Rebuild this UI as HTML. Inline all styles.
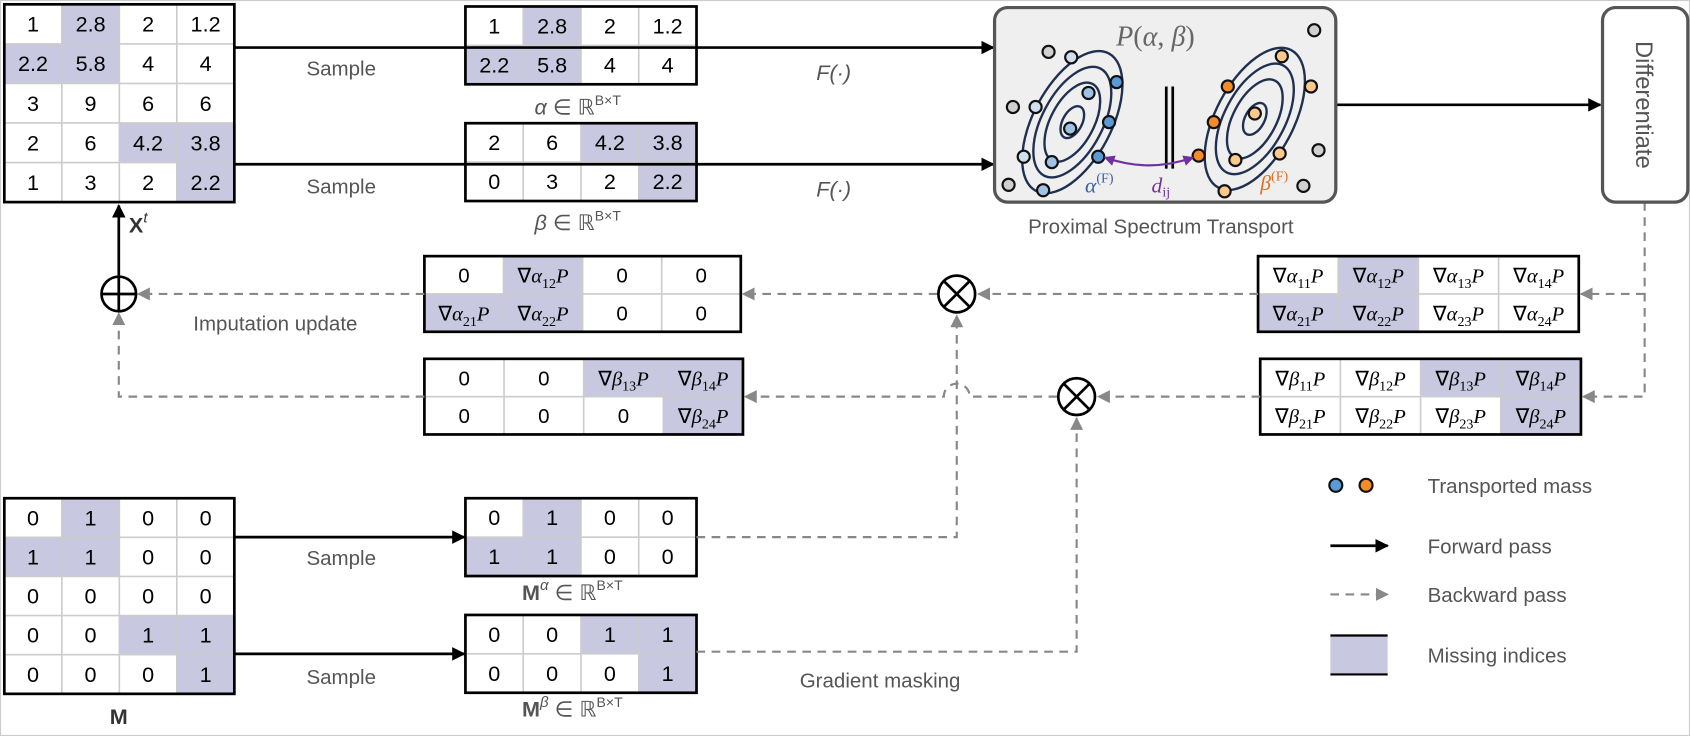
<!DOCTYPE html>
<html><head><meta charset="utf-8"><style>
html,body{margin:0;padding:0;background:#fff}
svg{display:block}
text{font-family:"Liberation Sans",sans-serif}
.m{font-family:"Liberation Serif",serif}
</style></head><body>
<svg id="s" width="1690" height="736" viewBox="0 0 1565 681" preserveAspectRatio="none" xmlns="http://www.w3.org/2000/svg">
<defs>
<marker id="ab" viewBox="0 0 10 10" refX="9" refY="5" markerWidth="5" markerHeight="5" orient="auto"><path d="M0,0L10,5L0,10z" fill="#000"/></marker>
<marker id="ag" viewBox="0 0 10 10" refX="9" refY="5" markerWidth="6" markerHeight="6" orient="auto"><path d="M0,0L10,5L0,10z" fill="#888"/></marker>
<marker id="ap" viewBox="0 0 10 10" refX="8" refY="5" markerWidth="5" markerHeight="5" orient="auto-start-reverse"><path d="M0,0L10,5L0,10z" fill="#7030a0"/></marker>
</defs>
<rect x="0.5" y="0.5" width="1564" height="680" fill="#fff" stroke="#ccc"/>
<g id="mats"></g>
<!-- forward arrows -->
<g stroke="#000" stroke-width="2.5" fill="none">
<line x1="217" y1="44" x2="920" y2="44" marker-end="url(#ab)"/>
<line x1="217" y1="152" x2="920" y2="152" marker-end="url(#ab)"/>
<line x1="1237" y1="97" x2="1482" y2="97" marker-end="url(#ab)"/>
<line x1="110" y1="256" x2="110" y2="190" marker-end="url(#ab)"/>
<line x1="217" y1="497" x2="430" y2="497" marker-end="url(#ab)"/>
<line x1="217" y1="605" x2="430" y2="605" marker-end="url(#ab)"/>
</g>
<!-- backward -->
<g stroke="#888" stroke-width="2" stroke-dasharray="8,6" fill="none">
<path d="M1523,187 V367 H1466" marker-end="url(#ag)"/>
<path d="M1523,272 H1464" marker-end="url(#ag)"/>
<path d="M1165,272 H906" marker-end="url(#ag)"/>
<path d="M868,272 H688" marker-end="url(#ag)"/>
<path d="M393,272 H128" marker-end="url(#ag)"/>
<path d="M1167,367 H1017" marker-end="url(#ag)"/>
<path d="M979,367 H898 A12,12 0 0 0 874,367 H690" marker-end="url(#ag)"/>
<path d="M393,367 H110 V290" marker-end="url(#ag)"/>
<path d="M645,497 H886 V292" marker-end="url(#ag)"/>
<path d="M645,603 H997 V387" marker-end="url(#ag)"/>
</g>
<!-- operators -->
<g stroke="#000" stroke-width="2.5" fill="#fff">
<circle cx="110" cy="272" r="16"/><path d="M94,272H126M110,256V288"/>
<circle cx="886" cy="272" r="17"/><path d="M874,260L898,284M898,260L874,284"/>
<circle cx="997" cy="367" r="17"/><path d="M985,355L1009,379M1009,355L985,379"/>
</g>
<!-- PST box -->
<rect x="921" y="7" width="316" height="180" rx="12" fill="#efefef" stroke="#555" stroke-width="3"/>
<text x="1070" y="42" text-anchor="middle" class="m" font-size="26" fill="#666"><tspan font-style="italic">P</tspan>(<tspan font-style="italic">α</tspan>, <tspan font-style="italic">β</tspan>)</text>
<g fill="none" stroke="#1f3050" stroke-width="2.2">
<g transform="translate(993,113) rotate(28)"><ellipse rx="36" ry="72"/><ellipse rx="28" ry="56"/><ellipse rx="20" ry="40"/><ellipse rx="9" ry="16"/></g>
</g>
<g fill="none" stroke="#1f3050" stroke-width="2.2">
<g transform="translate(1162,110) rotate(28)"><ellipse rx="36" ry="72"/><ellipse rx="28" ry="56"/><ellipse rx="20" ry="40"/><ellipse rx="9" ry="16"/></g>
</g>
<g id="dots" stroke="#111" stroke-width="2"></g>
<path d="M1080,80V156M1086,80V156" stroke="#000" stroke-width="2.5"/>
<path d="M1024,146 Q1064,160 1104,146" fill="none" stroke="#7030a0" stroke-width="2" marker-start="url(#ap)" marker-end="url(#ap)"/>
<text x="1075" y="178" text-anchor="middle" class="m" font-size="20" fill="#7030a0"><tspan font-style="italic">d</tspan><tspan font-size="13" dy="4">ij</tspan></text>
<text x="1018" y="178" text-anchor="middle" class="m" font-size="20" fill="#3a5fa0"><tspan font-style="italic">α</tspan><tspan font-size="13" dy="-9">(F)</tspan></text>
<text x="1180" y="176" text-anchor="middle" class="m" font-size="20" fill="#e07020"><tspan font-style="italic">β</tspan><tspan font-size="13" dy="-9">(F)</tspan></text>
<text x="1075" y="216" text-anchor="middle" font-size="19" fill="#555">Proximal Spectrum Transport</text>
<!-- differentiate -->
<rect x="1484" y="7" width="79" height="180" rx="12" fill="#fff" stroke="#555" stroke-width="3"/>
<text transform="translate(1515,97) rotate(90)" text-anchor="middle" font-size="22" fill="#555">Differentiate</text>
<!-- labels -->
<g font-size="19" fill="#555" text-anchor="middle">
<text x="316" y="70">Sample</text><text x="316" y="179">Sample</text>
<text x="316" y="523">Sample</text><text x="316" y="633">Sample</text>
<text x="255" y="306">Imputation update</text>
<text x="815" y="636">Gradient masking</text>
</g>
<g class="m" font-size="20" fill="#555" text-anchor="middle">
<text x="772" y="74" font-style="italic">F(·)</text><text x="772" y="182" font-style="italic">F(·)</text>
<text x="535" y="106"><tspan font-style="italic">α</tspan> ∈ ℝ<tspan font-size="13" dy="-9">B×T</tspan></text>
<text x="535" y="213"><tspan font-style="italic">β</tspan> ∈ ℝ<tspan font-size="13" dy="-9">B×T</tspan></text>
<text x="128" y="215" font-weight="bold" fill="#333">X<tspan font-size="14" dy="-9" font-weight="normal" font-style="italic">t</tspan></text>
<text x="110" y="670" font-weight="bold" fill="#333">M</text>
<text x="530" y="555"><tspan font-weight="bold">M</tspan><tspan font-size="14" dy="-9" font-style="italic">α</tspan><tspan dy="9"> ∈ ℝ</tspan><tspan font-size="13" dy="-9">B×T</tspan></text>
<text x="530" y="663"><tspan font-weight="bold">M</tspan><tspan font-size="14" dy="-9" font-style="italic">β</tspan><tspan dy="9"> ∈ ℝ</tspan><tspan font-size="13" dy="-9">B×T</tspan></text>
</g>
<!-- legend -->
<g>
<circle cx="1237" cy="449" r="6" fill="#5b9bd5" stroke="#111" stroke-width="2"/>
<circle cx="1265" cy="449" r="6" fill="#f28c28" stroke="#111" stroke-width="2"/>
<text x="1322" y="456" font-size="19" fill="#555">Transported mass</text>
<line x1="1232" y1="505" x2="1285" y2="505" stroke="#000" stroke-width="2.5" marker-end="url(#ab)"/>
<text x="1322" y="512" font-size="19" fill="#555">Forward pass</text>
<line x1="1232" y1="550" x2="1285" y2="550" stroke="#888" stroke-width="2" stroke-dasharray="8,6" marker-end="url(#ag)"/>
<text x="1322" y="557" font-size="19" fill="#555">Backward pass</text>
<rect x="1232" y="588" width="53" height="36" fill="#c8c8e0"/>
<path d="M1232,588H1285M1232,624H1285" stroke="#000" stroke-width="2"/>
<text x="1322" y="613" font-size="19" fill="#555">Missing indices</text>
</g>
</svg>
<script>
const NS='http://www.w3.org/2000/svg';
const xVals=[['1','2.8','2','1.2'],['2.2','5.8','4','4'],['3','9','6','6'],['2','6','4.2','3.8'],['1','3','2','2.2']];
const mVals=[['0','1','0','0'],['1','1','0','0'],['0','0','0','0'],['0','0','1','1'],['0','0','0','1']];
const shade5=[[0,1],[1,0],[1,1],[3,2],[3,3],[4,3]];
const shadeA=[[0,1],[1,0],[1,1]];
const shadeB=[[0,2],[0,3],[1,3]];
const gA=[['α11','α12','α13','α14'],['α21','α22','α23','α24']];
const gB=[['β11','β12','β13','β14'],['β21','β22','β23','β24']];
const gAm=[['0','α12','0','0'],['α21','α22','0','0']];
const gBm=[['0','0','β13','β14'],['0','0','0','β24']];
const mats=document.getElementById('mats');
function mk(t,a){const e=document.createElementNS(NS,t);for(const k in a)e.setAttribute(k,a[k]);return e;}
function matrix(name,x,y,w,h,vals,shade,fs){
  const g=mk('g',{});
  
  
  const R=vals.length,C=vals[0].length,cw=w/C,rh=h/R;
  g.appendChild(mk('rect',{x:x,y:y,width:w,height:h,fill:'#fff'}));
  shade.forEach(([r,c])=>g.appendChild(mk('rect',{x:x+c*cw,y:y+r*rh,width:cw,height:rh,fill:'#c8c8e0'})));
  for(let i=1;i<C;i++)g.appendChild(mk('line',{x1:x+i*cw,y1:y,x2:x+i*cw,y2:y+h,stroke:'#ccc','stroke-width':1.5}));
  for(let i=1;i<R;i++)g.appendChild(mk('line',{x1:x,y1:y+i*rh,x2:x+w,y2:y+i*rh,stroke:'#ccc','stroke-width':1.5}));
  for(let r=0;r<R;r++)for(let c=0;c<C;c++){
    const v=vals[r][c];const t=mk('text',{x:x+(c+.5)*cw,y:y+(r+.5)*rh+7,'text-anchor':'middle','font-size':fs});
    
    
    if(v.length===3&&/[αβ]/.test(v[0])){
      t.setAttribute('class','m');
      t.innerHTML='∇<tspan font-style="italic">'+v[0]+'</tspan><tspan font-size="13" dy="5">'+v.slice(1)+'</tspan><tspan dy="-5" font-style="italic">P</tspan>';
    } else t.textContent=v;
    g.appendChild(t);
  }
  g.appendChild(mk('rect',{x:x,y:y,width:w,height:h,fill:'none',stroke:'#000','stroke-width':2.5}));
  mats.appendChild(g);
}
matrix('x-matrix',4,4,213,183,xVals,shade5,20);
matrix('alpha-matrix',431,6,214,72,xVals.slice(0,2),shadeA,20);
matrix('beta-matrix',431,114,214,72,[['2','6','4.2','3.8'],['0','3','2','2.2']],shadeB,20);
matrix('m-matrix',4,461,213,181,mVals,shade5,20);
matrix('m-alpha-matrix',431,461,214,72,mVals.slice(0,2),shadeA,20);
matrix('m-beta-matrix',431,569,214,72,mVals.slice(3,5),shadeB,20);
matrix('grad-alpha-matrix',1165,237,297,70,gA,shadeA,19);
matrix('grad-beta-matrix',1167,332,297,70,gB,shadeB,19);
matrix('masked-grad-alpha-matrix',393,237,293,70,gAm,shadeA,19);
matrix('masked-grad-beta-matrix',393,332,295,70,gBm,shadeB,19);
const dotPts=[[971,48,'#d0d0d0'],[992,53,'#d0dff0'],[1034,76,'#5b9bd5'],[1008,86,'#9dc3e6'],[938,99,'#d0d0d0'],[959,99,'#d0dff0'],[1027,113,'#5b9bd5'],[991,119,'#9dc3e6'],[948,145,'#d0dff0'],[974,150,'#9dc3e6'],[1017,145,'#5b9bd5'],[934,171,'#d0d0d0'],[966,176,'#9dc3e6'],
[1187,52,'#fbc98e'],[1137,80,'#f28c28'],[1162,105,'#fbc98e'],[1124,113,'#f28c28'],[1110,144,'#f28c28'],[1144,148,'#fbc98e'],[1185,142,'#fbc98e'],[1134,177,'#fbc98e'],[1214,80,'#fbc98e'],[1217,28,'#d0d0d0'],[1221,139,'#d0d0d0'],[1207,172,'#d0d0d0']];
const dots=document.getElementById('dots');
dotPts.forEach(p=>{const c=mk('circle',{cx:p[0],cy:p[1],r:5.6,fill:p[2]});


dots.appendChild(c);});
</script>
</body></html>
